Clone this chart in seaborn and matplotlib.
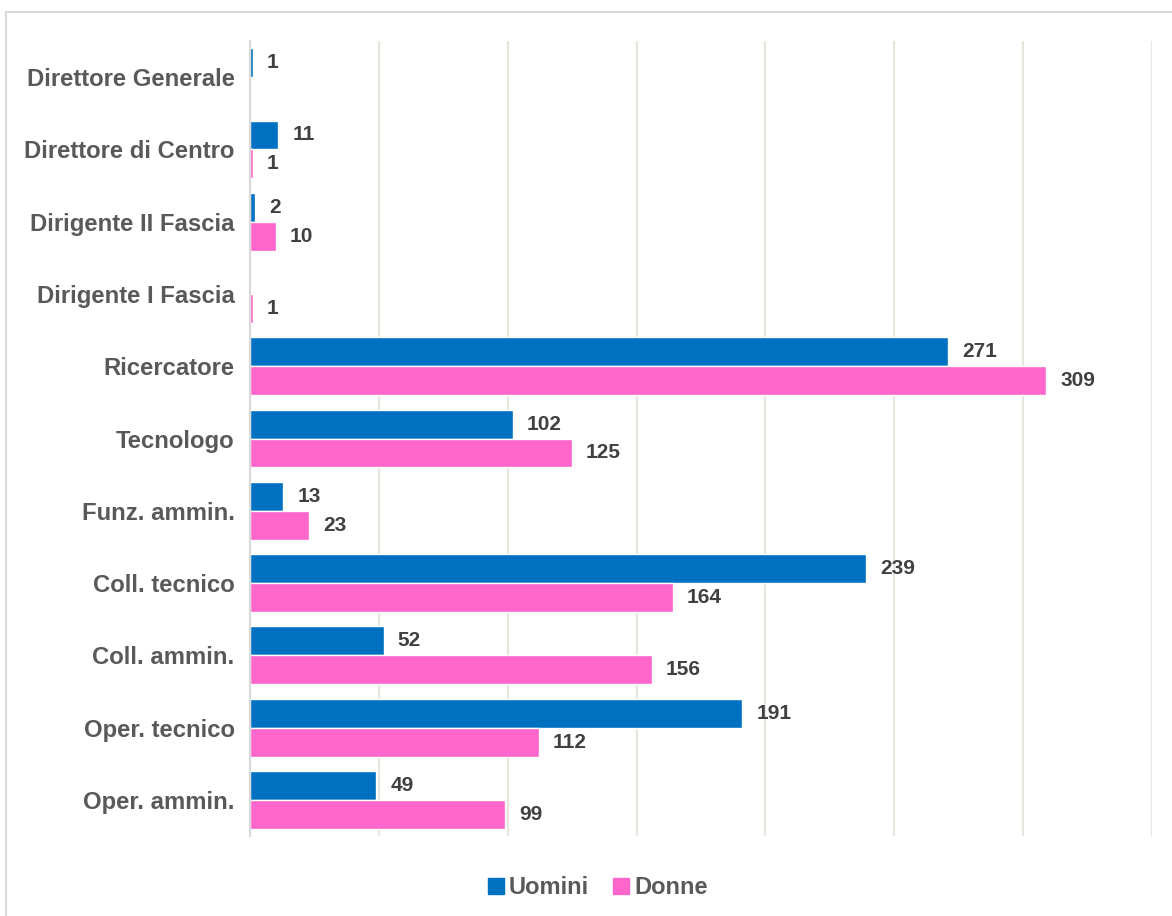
import pandas as pd
import numpy as np
import matplotlib.pyplot as plt
import seaborn as sns
from matplotlib.patches import Rectangle

# Personale per profilo e genere
profili = ["Direttore Generale", "Direttore di Centro", "Dirigente II Fascia",
           "Dirigente I Fascia", "Ricercatore", "Tecnologo", "Funz. ammin.",
           "Coll. tecnico", "Coll. ammin.", "Oper. tecnico", "Oper. ammin."]
uomini = [1, 11, 2, 0, 271, 102, 13, 239, 52, 191, 49]
donne = [0, 1, 10, 1, 309, 125, 23, 164, 156, 112, 99]
generi = ["Uomini", "Donne"]
colori = {"Uomini": "#0070C0", "Donne": "#FF66CC"}

df = pd.DataFrame({"profilo": profili * 2,
                   "genere": ["Uomini"] * len(profili) + ["Donne"] * len(profili),
                   "valore": uomini + donne})

sns.set_style("white")
plt.rcParams['font.family'] = ['Liberation Sans', 'DejaVu Sans']

fig = plt.figure(figsize=(11.72, 9.16), dpi=100)
ax = fig.add_axes([0.2133, 0.0873, 0.983 - 0.2133, 0.9552 - 0.0873])

sns.barplot(data=df, y="profilo", x="valore", hue="genere", order=profili,
            hue_order=generi, palette=colori, orient="h", width=0.8,
            saturation=1, ax=ax, legend=False)

# etichette dei valori (vuote dove manca il dato)
for cont, vals in zip(ax.containers, [uomini, donne]):
    ax.bar_label(cont, labels=[str(v) if v > 0 else "" for v in vals],
                 padding=10, fontsize=15, fontweight="bold", color="#404040")

ax.set_xlim(0, 350)
ax.set_ylim(len(profili) - 0.5, -0.5)
ax.set_xticks(np.arange(0, 351, 50))
ax.set_xticklabels([])
ax.grid(axis="x", color="#e8e5dc", linewidth=1.5)
ax.set_axisbelow(True)
for s in ["top", "right", "bottom"]:
    ax.spines[s].set_visible(False)
ax.spines["left"].set_color("#d9d9d9")
ax.spines["left"].set_linewidth(1.5)
ax.tick_params(axis="y", length=0, pad=11, labelsize=17.2, labelcolor="#595959")
for t in ax.get_yticklabels():
    t.set_fontweight("bold")
ax.tick_params(axis="x", length=0)
ax.set_xlabel("")
ax.set_ylabel("")

handles = [Rectangle((0, 0), 1, 1, color=colori[g]) for g in generi]
fig.legend(handles, generi, loc="center", bbox_to_anchor=(0.51, 0.031), ncol=2,
           frameon=False, handlelength=0.7, handleheight=0.7, handletextpad=0.2,
           columnspacing=1.0, prop={"size": 17, "weight": "bold"},
           labelcolor="#595959")

fig.add_artist(Rectangle((6 / 1172, -0.01), 1.0, 0.987 + 0.01,
                         transform=fig.transFigure, fill=False,
                         edgecolor="#d9d9d9", linewidth=1.5))

fig.savefig("out.png", dpi=100)
